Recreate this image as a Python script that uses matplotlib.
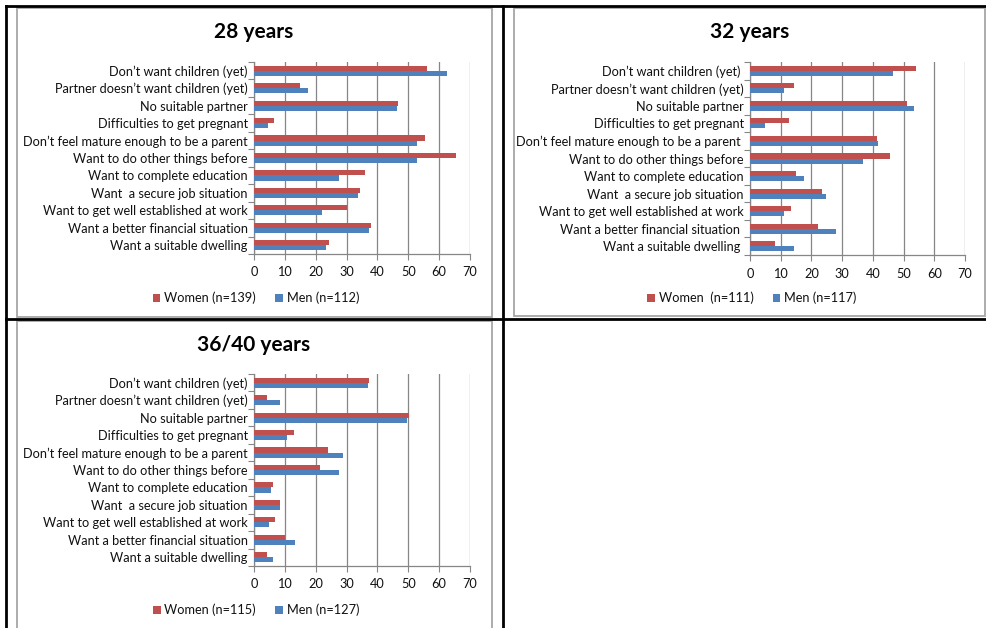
import matplotlib
matplotlib.use("Agg")
import matplotlib.pyplot as plt
from matplotlib.lines import Line2D
from matplotlib.patches import Rectangle

plt.rcParams['font.family'] = ['Lato', 'DejaVu Sans']

W, H = 987, 628

categories = [
    "Don\u2019t want children (yet)",
    "Partner doesn\u2019t want children (yet)",
    "No suitable partner",
    "Difficulties to get pregnant",
    "Don\u2019t feel mature enough to be a parent",
    "Want to do other things before",
    "Want to complete education",
    "Want  a secure job situation",
    "Want to get well established at work",
    "Want a better financial situation",
    "Want a suitable dwelling",
]
categories_32 = [
    "Don\u2019t want children (yet) ",
    "Partner doesn\u2019t want children (yet)",
    "No suitable partner",
    "Difficulties to get pregnant",
    "Don\u2019t feel mature enough to be a parent ",
    "Want to do other things before",
    "Want to complete education",
    "Want  a secure job situation",
    "Want to get well established at work",
    "Want a better financial situation ",
    "Want a suitable dwelling ",
]

women_28 = [56.2, 15.0, 46.6, 6.4, 55.3, 65.6, 35.9, 34.3, 30.2, 38.0, 24.4]
men_28 = [62.7, 17.6, 46.2, 4.4, 52.7, 52.7, 27.6, 33.8, 22.1, 37.4, 23.2]

women_32 = [54.0, 14.2, 51.1, 12.6, 41.3, 45.7, 15.1, 23.3, 13.4, 22.2, 8.0]
men_32 = [46.7, 11.1, 53.5, 5.0, 41.7, 36.7, 17.7, 24.7, 11.1, 28.1, 14.4]

women_36 = [37.3, 4.2, 50.3, 12.9, 24.1, 21.5, 6.1, 8.5, 6.8, 10.2, 4.2]
men_36 = [37.0, 8.5, 49.5, 10.8, 29.0, 27.5, 5.4, 8.5, 4.7, 13.3, 6.3]

titles = ["28 years", "32 years", "36/40 years"]
women_labels = ["Women (n=139)", "Women  (n=111)", "Women (n=115)"]
men_labels = ["Men (n=112)", "Men (n=117)", "Men (n=127)"]
xticks = [0, 10, 20, 30, 40, 50, 60, 70]

RED = "#C0504D"
BLUE = "#4F81BD"
GRID = "#868686"
TXT = "#111111"
FS = 9.2

fig = plt.figure(figsize=(W / 100, H / 100), dpi=100)

def px_rect(x0, x1, y0, y1):
    return [x0 / W, 1 - y1 / H, (x1 - x0) / W, (y1 - y0) / H]

def fx(x):
    return x / W

def fy(y):
    return 1 - y / H

# frames: gray chart borders
for (x0, x1, y0, y1) in [(17, 492, 8, 317), (514, 985, 8, 316), (17, 492, 321, 640)]:
    fig.patches.append(Rectangle((fx(x0), fy(y1)), fx(x1) - fx(x0), fy(y0) - fy(y1),
                                 transform=fig.transFigure, fill=False,
                                 edgecolor="#A6A6A6", linewidth=1.3, zorder=0))
# black table lines
for (xs, ys) in [((6, 6), (6, 640)), ((6, 990), (6, 6)), ((503, 503), (6, 640)), ((6, 990), (319, 319))]:
    fig.lines.append(Line2D([fx(xs[0]), fx(xs[1])], [fy(ys[0]), fy(ys[1])],
                            transform=fig.transFigure, color="black", linewidth=2.0, zorder=5))

panels = [
    dict(rect=(254, 470, 62, 254), cats=categories, w=women_28, m=men_28,
         title_y=32, leg=(256, 298)),
    dict(rect=(750, 965, 62, 255), cats=categories_32, w=women_32, m=men_32,
         title_y=32, leg=(752, 298)),
    dict(rect=(254, 470, 374, 566), cats=categories, w=women_36, m=men_36,
         title_y=345, leg=(256, 610)),
]

for i, p in enumerate(panels):
    x0, x1, y0, y1 = p["rect"]
    ax = fig.add_axes(px_rect(x0, x1, y0, y1))
    n = len(p["cats"])
    ys = list(range(n))
    h = 0.29
    bw = ax.barh([y - h / 2 for y in ys], p["w"], height=h, color=RED,
                 label=women_labels[i], zorder=3)
    bm = ax.barh([y + h / 2 for y in ys], p["m"], height=h, color=BLUE,
                 label=men_labels[i], zorder=3)
    ax.set_xlim(0, 70)
    ax.set_ylim(n - 0.5, -0.5)
    ax.set_xticks(xticks)
    ax.set_xticklabels([str(t) for t in xticks], fontsize=FS, color=TXT)
    ax.set_yticks(ys)
    ax.set_yticklabels(p["cats"], fontsize=FS, color=TXT)
    ax.set_yticks([y + 0.5 for y in range(-1, n)], minor=True)
    ax.tick_params(axis="y", which="major", length=0, pad=4.5)
    ax.tick_params(axis="y", which="minor", length=4, color=GRID, width=0.8)
    ax.tick_params(axis="x", which="major", length=4, color=GRID, width=0.8, pad=5)
    ax.grid(axis="x", color=GRID, linewidth=0.9, zorder=0)
    ax.set_axisbelow(True)
    for s in ["top", "right"]:
        ax.spines[s].set_visible(False)
    for s in ["left", "bottom"]:
        ax.spines[s].set_color(GRID)
        ax.spines[s].set_linewidth(0.9)
    fig.text(fx(x0), fy(p["title_y"]), titles[i], ha="center", va="center",
             fontsize=15, fontweight="bold", color="black")
    lx, ly = p["leg"]
    fig.legend(handles=[bw, bm], loc="center", bbox_to_anchor=(fx(lx), fy(ly)),
               ncol=2, frameon=False, fontsize=FS, handlelength=0.6, handleheight=0.6,
               handletextpad=0.3, columnspacing=1.5, borderaxespad=0,
               labelcolor=TXT)

fig.savefig("out.png", dpi=100)
